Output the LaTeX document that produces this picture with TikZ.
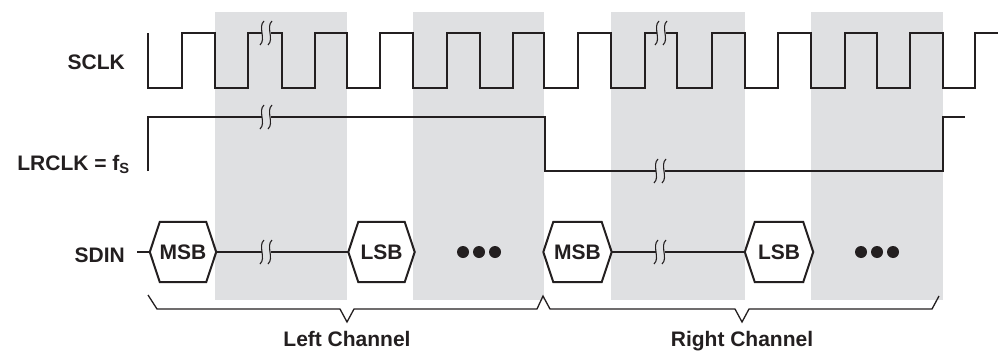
\documentclass[tikz,border=0pt]{standalone}
\usepackage{fontspec}
\setmainfont{Liberation Sans}
\usetikzlibrary{calc}
\definecolor{band}{RGB}{223,224,226}
\definecolor{ink}{RGB}{35,31,32}
\pgfdeclarelayer{bands}
\pgfdeclarelayer{hexes}
\pgfsetlayers{bands,hexes,main}
\newcommand\brkmark[2]{\draw[brk] (#1+2,#2-12) .. controls (#1-4.5,#2-6) and (#1+4.5,#2+6) .. (#1-2,#2+12);}
\newcommand\hexo[1]{\begin{pgfonlayer}{hexes}\filldraw[sig,fill=white] (#1.west) -- ([xshift=10pt]#1.north west) -- ([xshift=-10pt]#1.north east) -- (#1.east) -- ([xshift=-10pt]#1.south east) -- ([xshift=10pt]#1.south west) -- cycle;\end{pgfonlayer}}
\begin{document}
\begin{tikzpicture}[x=1pt,y=-1pt,
  sig/.style={draw=ink,line width=2pt,line join=miter},
  brace/.style={draw=ink,line width=1.3pt,line join=miter},
  brk/.style={draw=ink,line width=1.1pt},
  lbl/.style={font=\bfseries\fontsize{21}{25}\selectfont,text=ink,inner sep=0pt},
  hexnode/.style={lbl,minimum width=66pt,minimum height=60pt},
  dotnode/.style={circle,fill=ink,minimum size=12pt,inner sep=0pt}]
\useasboundingbox (0,0) rectangle (998,351);
% grey bands
\begin{pgfonlayer}{bands}
\foreach \a/\b in {215/347,413/544,611/745,811/943}
  \fill[band] (\a,12) rectangle (\b,300);
\end{pgfonlayer}
% labels
\node[lbl,anchor=base east] (lsclk) at (125,69) {SCLK};
\node[lbl,anchor=base east] (llr) at (130,170) {LRCLK = f\textsubscript{S}};
\node[lbl,anchor=base east] (lsdin) at (125,262) {SDIN};
% SCLK
\draw[sig] (148,33) -- (148,88) -- (182,88) -- (182,33) -- (215,33) -- (215,88) -- (248,88) -- (248,33) -- (262,33);
\draw[sig] (271,33) -- (282,33) -- (282,88) -- (315,88) -- (315,33) -- (347,33) -- (347,88) -- (380,88) -- (380,33) -- (413,33) -- (413,88) -- (447,88) -- (447,33) -- (480,33) -- (480,88) -- (513,88) -- (513,33) -- (544,33) -- (544,88) -- (578,88) -- (578,33) -- (611,33) -- (611,88) -- (645,88) -- (645,33) -- (657,33);
\draw[sig] (666,33) -- (677,33) -- (677,88) -- (712,88) -- (712,33) -- (745,33) -- (745,88) -- (778,88) -- (778,33) -- (811,33) -- (811,88) -- (845,88) -- (845,33) -- (877,33) -- (877,88) -- (910,88) -- (910,33) -- (943,33) -- (943,88) -- (975,88) -- (975,33) -- (998,33);
\brkmark{262}{33}\brkmark{270}{33}
\brkmark{657}{33}\brkmark{665}{33}
% LRCLK
\draw[sig] (148,171) -- (148,117) -- (262,117);
\draw[sig] (271,117) -- (545,117) -- (545,171) -- (656,171);
\draw[sig] (665,171) -- (943,171) -- (943,117) -- (965,117);
\brkmark{262}{117}\brkmark{270}{117}
\brkmark{656}{171}\brkmark{664}{171}
% SDIN
\node[hexnode] (msbL) at (183,252) {MSB};
\node[hexnode] (lsbL) at (381.5,252) {LSB};
\node[hexnode,minimum width=68pt] (msbR) at (577.5,252) {MSB};
\node[hexnode,minimum width=68pt] (lsbR) at (779,252) {LSB};
\hexo{msbL}\hexo{lsbL}\hexo{msbR}\hexo{lsbR}
\coordinate (stub) at (137,252);
\coordinate (b1a) at (262,252); \coordinate (b1b) at (271,252);
\coordinate (b2a) at (656,252); \coordinate (b2b) at (665,252);
\draw[sig] (stub) -- (msbL.west);
\draw[sig] (msbL.east) -- (b1a);
\draw[sig] (b1b) -- (lsbL.west);
\draw[sig] (msbR.east) -- (b2a);
\draw[sig] (b2b) -- (lsbR.west);
\brkmark{262}{252}\brkmark{270}{252}
\brkmark{656}{252}\brkmark{664}{252}
\node[dotnode] (d1) at (463,252) {};
\node[dotnode] (d2) at (479,252) {};
\node[dotnode] (d3) at (495,252) {};
\node[dotnode] (d4) at (861,252) {};
\node[dotnode] (d5) at (877,252) {};
\node[dotnode] (d6) at (893,252) {};
% braces
\draw[brace] (148,295) -- (157,309) -- (340,309) -- (347,322) -- (354,309) -- (537,309) -- (543,296) -- (550,309) -- (735,309) -- (742,322) -- (749,309) -- (932,309) -- (939,296);
\node[lbl,anchor=base] (lch) at (347,346) {Left Channel};
\node[lbl,anchor=base] (rch) at (742,346) {Right Channel};
\end{tikzpicture}
\end{document}
